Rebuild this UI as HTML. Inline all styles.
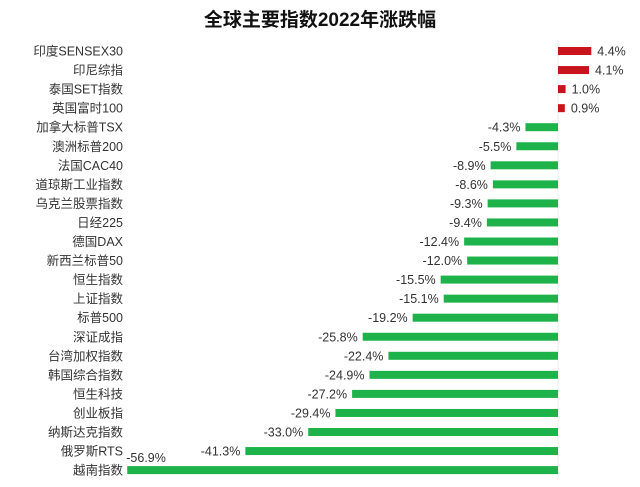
<!DOCTYPE html>
<html><head><meta charset="utf-8"><style>
body{margin:0;background:#fff;width:640px;height:487px;overflow:hidden;font-family:"Liberation Sans","Noto Sans CJK SC",sans-serif}
#title{position:absolute;left:0;width:640px;top:5px;text-align:center;font-size:19px;font-weight:bold;color:#111}
svg{position:absolute;left:0;top:0}
text{font-family:"Liberation Sans","Noto Sans CJK SC",sans-serif;font-size:12.5px;fill:#333}
</style></head><body>
<div id="title">全球主要指数2022年涨跌幅</div>
<svg id="chart" width="640" height="487"></svg>
<script>
const categories=["印度SENSEX30","印尼综指","泰国SET指数","英国富时100","加拿大标普TSX","澳洲标普200","法国CAC40","道琼斯工业指数","乌克兰股票指数","日经225","德国DAX","新西兰标普50","恒生指数","上证指数","标普500","深证成指","台湾加权指数","韩国综合指数","恒生科技","创业板指","纳斯达克指数","俄罗斯RTS","越南指数"];
const values=[4.4,4.1,1.0,0.9,-4.3,-5.5,-8.9,-8.6,-9.3,-9.4,-12.4,-12.0,-15.5,-15.1,-19.2,-25.8,-22.4,-24.9,-27.2,-29.4,-33.0,-41.3,-56.9];
const labels=values.map(v=>v.toFixed(1)+"%");
const svg=document.getElementById('chart');
const NS="http://www.w3.org/2000/svg";
const x0=558,pxPer=7.57,y0=51,step=19.05,bh=8;
const xs=v=>x0+v*pxPer;
const ys=i=>y0+i*step;
function mk(t,a){const e=document.createElementNS(NS,t);for(const k in a)e.setAttribute(k,a[k]);svg.appendChild(e);return e;}
const axis=mk('line',{x1:x0,x2:x0,y1:40,y2:480,stroke:'#eee','stroke-width':1});


categories.forEach((c,i)=>{
  const y=ys(i),v=values[i];
  const t=mk('text',{x:123,y:y+4.5,'text-anchor':'end'});t.textContent=c;
  
  
  const xa=Math.min(xs(v),x0),w=Math.abs(xs(v)-x0);
  const r=mk('rect',{x:xa,y:y-bh/2,width:w,height:bh,fill:v>=0?'#c8141c':'#1db34a'});
  
  
  let l;
  if(v>=0){l=mk('text',{x:xs(v)+6,y:y+4.5});}
  else if(xs(v)-50<130){l=mk('text',{x:xs(v)-1,y:y-8});}
  else{l=mk('text',{x:xs(v)-5,y:y+4.5,'text-anchor':'end'});}
  l.textContent=labels[i];
  
  
});
</script>
</body></html>
